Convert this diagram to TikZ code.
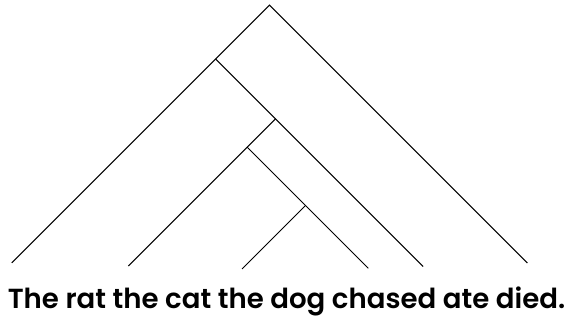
\documentclass[tikz,border=0pt]{standalone}
\usepackage{fontspec}
\setmainfont{Poppins}[BoldFont={Poppins SemiBold}]
\begin{document}
\begin{tikzpicture}[x=1pt,y=-1pt,
  branch/.style={draw=black,line width=1pt},
  sent/.style={anchor=base,inner sep=0pt,font=\fontsize{27.6}{30}\selectfont\bfseries}]
\useasboundingbox (0,0) rectangle (570,321);
\coordinate (P) at (269.5,5.1);
\coordinate (A) at (215.65,58.95);
\coordinate (B) at (275.5,118.8);
\coordinate (C) at (247.15,147.15);
\coordinate (D) at (305.5,205.5);
\coordinate (Lend) at (11.8,262.8);
\coordinate (Rend) at (527.4,263);
\coordinate (Aend) at (423.2,266.5);
\coordinate (Bend) at (128.3,266);
\coordinate (Cend) at (368.3,268.3);
\coordinate (Dend) at (242,269);
\draw[branch] (Lend) -- (A) -- (P) -- (Rend);
\draw[branch] (A) -- (B) -- (Aend);
\draw[branch] (B) -- (C) -- (Bend);
\draw[branch] (C) -- (D) -- (Cend);
\draw[branch] (D) -- (Dend);
\node[sent] (s) at (286.5,308.3) {The rat the cat the dog chased ate died.};
\end{tikzpicture}
\end{document}
